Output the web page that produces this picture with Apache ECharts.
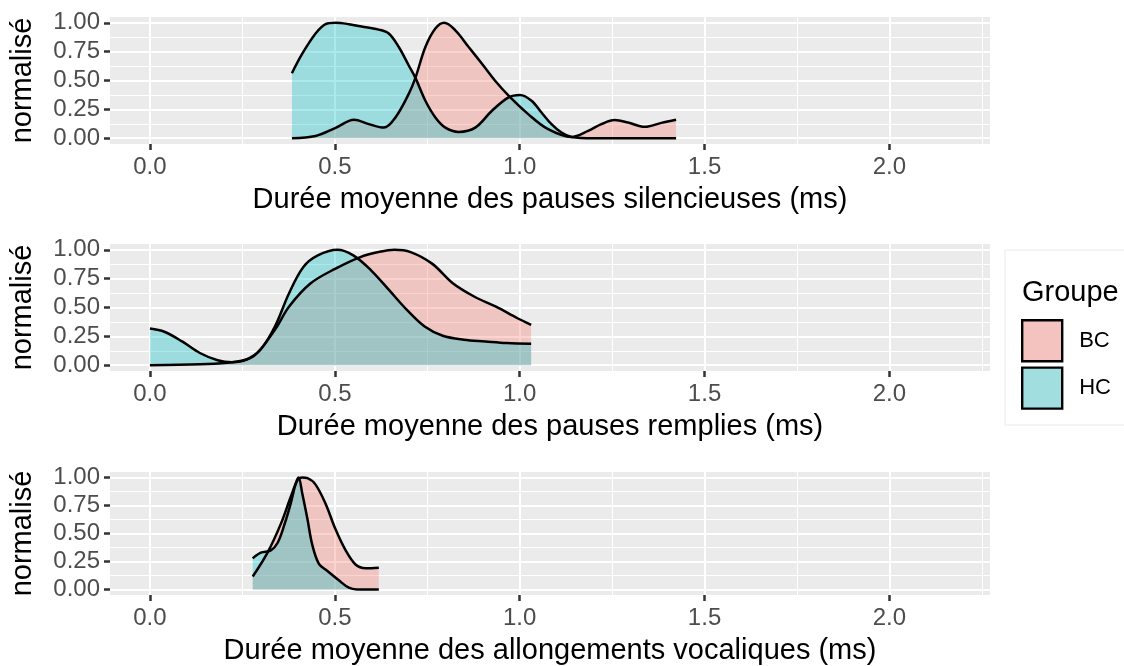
<!DOCTYPE html>
<html>
	<head>
		<meta charset="UTF-8">
		<title></title>
		<style>
			body { margin: 0; background: #fff; }
		</style>
	</head>
	<body>
		<div id="chart1" style="width: 1124px;height: 666px;"></div>
		<script src="https://cdn.jsdelivr.net/npm/echarts@6/dist/echarts.min.js"></script>
		<script type="text/javascript">
			// valeurs (densité normalisée)
			var silBCx = [0.384, 0.448, 0.502, 0.552, 0.592, 0.633, 0.664, 0.700, 0.718, 0.745, 0.772, 0.796, 0.826, 0.862, 0.898, 0.933, 0.970, 1.023, 1.077, 1.140, 1.185, 1.221, 1.257, 1.293, 1.338, 1.383, 1.423];
			var silBCy = [0.0, 0.02, 0.09, 0.16, 0.122, 0.092, 0.18, 0.384, 0.523, 0.79, 0.95, 1.0, 0.935, 0.79, 0.645, 0.5, 0.369, 0.209, 0.078, 0.011, 0.064, 0.122, 0.157, 0.136, 0.099, 0.133, 0.16];
			var silHCx = [0.384, 0.412, 0.448, 0.475, 0.502, 0.538, 0.579, 0.619, 0.646, 0.673, 0.700, 0.718, 0.745, 0.772, 0.799, 0.835, 0.880, 0.925, 0.970, 1.001, 1.032, 1.059, 1.086, 1.113, 1.140, 1.200, 1.300, 1.423];
			var silHCy = [0.563, 0.732, 0.907, 0.988, 1.0, 0.988, 0.964, 0.941, 0.907, 0.79, 0.63, 0.523, 0.325, 0.18, 0.092, 0.055, 0.092, 0.238, 0.354, 0.375, 0.325, 0.223, 0.122, 0.049, 0.011, 0.0, 0.0, 0.0];

			var rempBCx = [0.0, 0.135, 0.222, 0.280, 0.338, 0.376, 0.434, 0.502, 0.569, 0.618, 0.661, 0.705, 0.763, 0.820, 0.878, 0.936, 0.994, 1.031];
			var rempBCy = [0.0, 0.009, 0.026, 0.077, 0.307, 0.507, 0.708, 0.837, 0.937, 0.98, 1.0, 0.98, 0.88, 0.708, 0.593, 0.507, 0.407, 0.35];
			var rempHCx = [0.0, 0.039, 0.087, 0.135, 0.183, 0.222, 0.261, 0.299, 0.338, 0.376, 0.415, 0.454, 0.507, 0.550, 0.598, 0.647, 0.695, 0.743, 0.792, 0.849, 0.907, 0.965, 1.031];
			var rempHCy = [0.318, 0.29, 0.206, 0.106, 0.043, 0.026, 0.049, 0.135, 0.335, 0.622, 0.851, 0.951, 1.0, 0.951, 0.822, 0.65, 0.479, 0.335, 0.255, 0.221, 0.206, 0.192, 0.186];

			var allBCx = [0.278, 0.318, 0.354, 0.381, 0.399, 0.412, 0.426, 0.448, 0.475, 0.502, 0.529, 0.556, 0.583, 0.619];
			var allBCy = [0.115, 0.329, 0.586, 0.829, 0.975, 1.0, 0.995, 0.937, 0.766, 0.537, 0.351, 0.223, 0.189, 0.194];
			var allHCx = [0.278, 0.300, 0.327, 0.345, 0.363, 0.381, 0.394, 0.402, 0.412, 0.426, 0.439, 0.457, 0.480, 0.511, 0.538, 0.560, 0.619];
			var allHCy = [0.278, 0.329, 0.349, 0.415, 0.572, 0.771, 0.943, 1.0, 0.857, 0.629, 0.4, 0.229, 0.165, 0.081, 0.015, 0.0, 0.0];

			var groupes = ['BC', 'HC'];
			var titresX = ['Durée moyenne des pauses silencieuses (ms)', 'Durée moyenne des pauses remplies (ms)', 'Durée moyenne des allongements vocaliques (ms)'];
			var ticksX = [0, 0.5, 1, 1.5, 2];
			var ticksXmineurs = [0.25, 0.75, 1.25, 1.75, 2.25];
			var ticksY = [0, 0.25, 0.5, 0.75, 1];
			var ticksYmineurs = [0.125, 0.375, 0.625, 0.875];

			function zip(xs, ys) {
				return xs.map(function(x, i) { return [x, ys[i]]; });
			}

			var donnees = [
				[zip(silBCx, silBCy), zip(silHCx, silHCy)],
				[zip(rempBCx, rempBCy), zip(rempHCx, rempHCy)],
				[zip(allBCx, allBCy), zip(allHCx, allHCy)]
			];

			var police = 'Liberation Sans, Arial, sans-serif';
			var remplissage = ['rgba(248,118,109,0.32)', 'rgba(0,191,196,0.33)'];
			var hauts = [17, 244, 472];

			var grids = [], xAxes = [], yAxes = [], series = [];
			hauts.forEach(function(top, g) {
				grids.push({
					left: 107, width: 883, top: top, height: 127,
					show: true, backgroundColor: '#EBEBEB', borderWidth: 0
				});
				// lignes secondaires (déclarées d'abord, dessous)
				xAxes.push({
					type: 'value', gridIndex: g, min: -0.108, max: 2.272, position: 'bottom',
					axisLine: { show: false, onZero: false },
					axisTick: { show: false, customValues: ticksXmineurs },
					axisLabel: { show: false, customValues: ticksXmineurs },
					splitLine: { show: true, lineStyle: { color: '#fff', width: 1 } }
				});
				// axe principal
				xAxes.push({
					type: 'value', gridIndex: g, min: -0.108, max: 2.272, position: 'bottom',
					name: titresX[g], nameLocation: 'middle', nameGap: 41,
					nameTextStyle: { color: '#000', fontSize: 29, fontFamily: police },
					axisLine: { show: false, onZero: false },
					axisTick: { show: true, length: 6, customValues: ticksX, lineStyle: { color: '#333', width: 2.5 } },
					axisLabel: { customValues: ticksX, margin: 11, color: '#4D4D4D', fontSize: 24, fontFamily: police,
						formatter: function(v) { return v.toFixed(1); } },
					splitLine: { show: true, lineStyle: { color: '#fff', width: 2 } }
				});
				yAxes.push({
					type: 'value', gridIndex: g, min: -0.05, max: 1.05, position: 'left',
					axisLine: { show: false, onZero: false },
					axisTick: { show: false, customValues: ticksYmineurs },
					axisLabel: { show: false, customValues: ticksYmineurs },
					splitLine: { show: true, lineStyle: { color: '#fff', width: 1 } }
				});
				yAxes.push({
					type: 'value', gridIndex: g, min: -0.05, max: 1.05, position: 'left',
					name: 'normalisé', nameLocation: 'middle', nameGap: 73,
					nameTextStyle: { color: '#000', fontSize: 29, fontFamily: police },
					axisLine: { show: false, onZero: false },
					axisTick: { show: true, length: 6, customValues: ticksY, lineStyle: { color: '#333', width: 2.5 } },
					axisLabel: { customValues: ticksY, margin: 10, color: '#4D4D4D', fontSize: 24, fontFamily: police,
						formatter: function(v) { return v.toFixed(2); } },
					splitLine: { show: true, lineStyle: { color: '#fff', width: 2 } }
				});
				groupes.forEach(function(nom, k) {
					series.push({
						name: nom, type: 'line', xAxisIndex: g * 2 + 1, yAxisIndex: g * 2 + 1,
						data: donnees[g][k], smooth: 0.35, showSymbol: false, symbol: 'none',
						lineStyle: { color: '#000', width: 2.5 },
						itemStyle: { color: remplissage[k] },
						areaStyle: { color: remplissage[k], opacity: 1, origin: 0 },
						silent: true
					});
				});
			});

			var my_chart = echarts.init(document.getElementById('chart1'));
			var option = {
				backgroundColor: '#fff',
				animation: false,
				title: {
					text: 'Groupe', left: 1017, top: 273,
					textStyle: { color: '#000', fontSize: 29, fontWeight: 'normal', fontFamily: police }
				},
				legend: {
					orient: 'vertical', left: 1021, top: 319, padding: 0,
					itemWidth: 40, itemHeight: 41, itemGap: 4, icon: 'rect',
					textStyle: { color: '#000', fontSize: 22, fontFamily: police, padding: [0, 0, 0, 12] },
					data: [
						{ name: 'BC', itemStyle: { color: 'rgb(244,195,192)', borderColor: '#000', borderWidth: 2.4 } },
						{ name: 'HC', itemStyle: { color: 'rgb(160,222,223)', borderColor: '#000', borderWidth: 2.4 } }
					]
				},
				graphic: [{
					type: 'rect', shape: { x: 1005, y: 250, width: 130, height: 175 },
					style: { fill: 'none', stroke: '#EAEAEA', lineWidth: 1 }, silent: true
				}],
				grid: grids,
				xAxis: xAxes,
				yAxis: yAxes,
				series: series
			};
			my_chart.setOption(option);
		</script>
	</body>
</html>
